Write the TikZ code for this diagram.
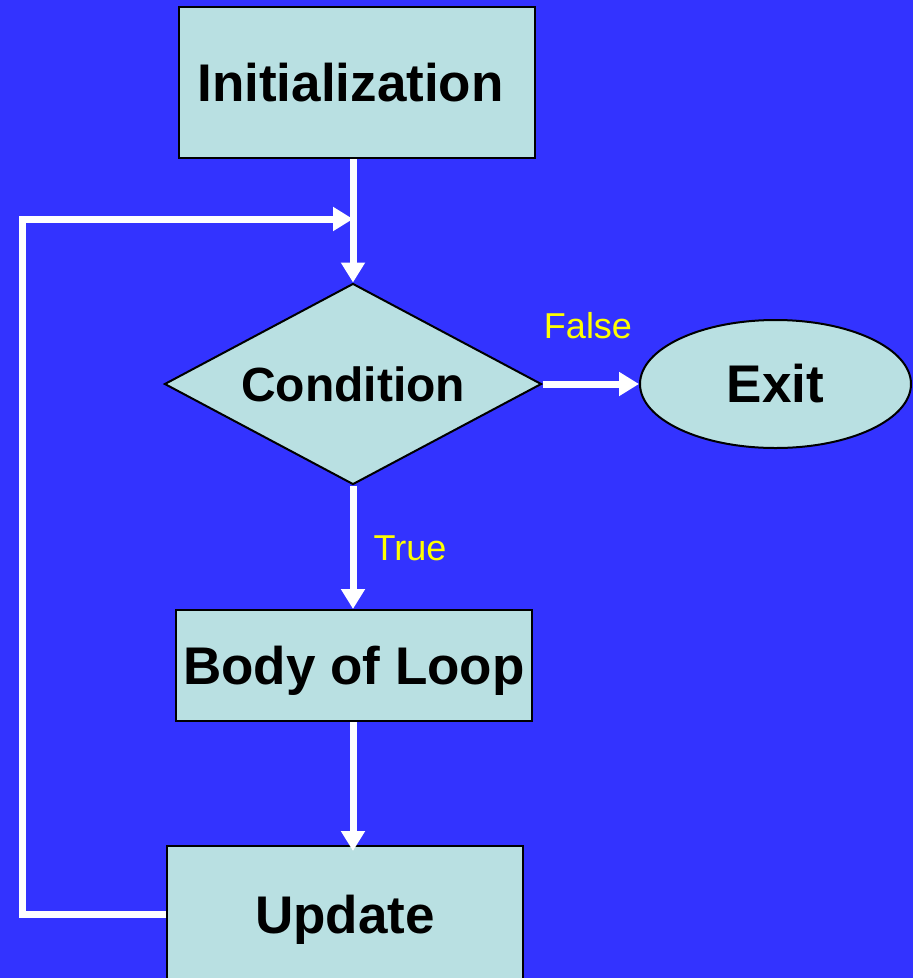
\documentclass[tikz,border=0pt]{standalone}
\usepackage{fontspec}
\setmainfont{Liberation Sans}
\usetikzlibrary{arrows.meta,shapes.geometric}
\definecolor{bgblue}{RGB}{51,51,255}
\definecolor{boxfill}{RGB}{185,224,226}
\definecolor{lblyellow}{RGB}{255,255,0}
\tikzset{
  box/.style={draw=black, line width=2pt, fill=boxfill, inner sep=0pt, font=\fontsize{53}{60}\selectfont\bfseries},
  flow/.style={draw=white, line width=7pt, line join=miter, -{Triangle[length=20pt,width=23pt]}},
  lbl/.style={text=lblyellow, inner sep=0pt, font=\fontsize{36}{40}\selectfont},
}
\begin{document}
\begin{tikzpicture}[x=1pt,y=-1pt]
\useasboundingbox (0,0) rectangle (913,978);
\fill[bgblue] (0,0) rectangle (913,978);
\node[box, minimum width=356pt, minimum height=151pt] (init) at (357,82.5) {Initialization\rule{13pt}{0pt}};
\node[box, shape=diamond, aspect=1.875, minimum width=377pt, minimum height=201pt, font=\fontsize{48}{54}\selectfont\bfseries] (cond) at (353,384) {Condition};
\node[box, shape=ellipse, minimum width=271pt, minimum height=128pt] (exit) at (775.5,384) {Exit};
\node[box, text depth=0pt, minimum width=356pt, minimum height=111pt] (body) at (354,665.5) {Body of Loop};
\node[box, text depth=0pt, minimum width=356pt, minimum height=136pt] (upd) at (345,914) {Update};
\node[lbl] (false) at (588,326) {False};
\node[lbl] (true) at (410,548) {True};
\coordinate (lp) at (22,219);
\coordinate (merge) at (353,219);
\draw[flow] (init.south -| cond.north) -- (cond.north);
\draw[flow] (cond.east) -- (exit.west);
\draw[flow] (cond.south) -- (body.north -| cond.south);
\draw[flow] (body.south -| cond.south) -- ([yshift=-6pt]upd.north -| cond.south);
\draw[flow] (upd.west) -| (lp) -- (merge);
\end{tikzpicture}
\end{document}
